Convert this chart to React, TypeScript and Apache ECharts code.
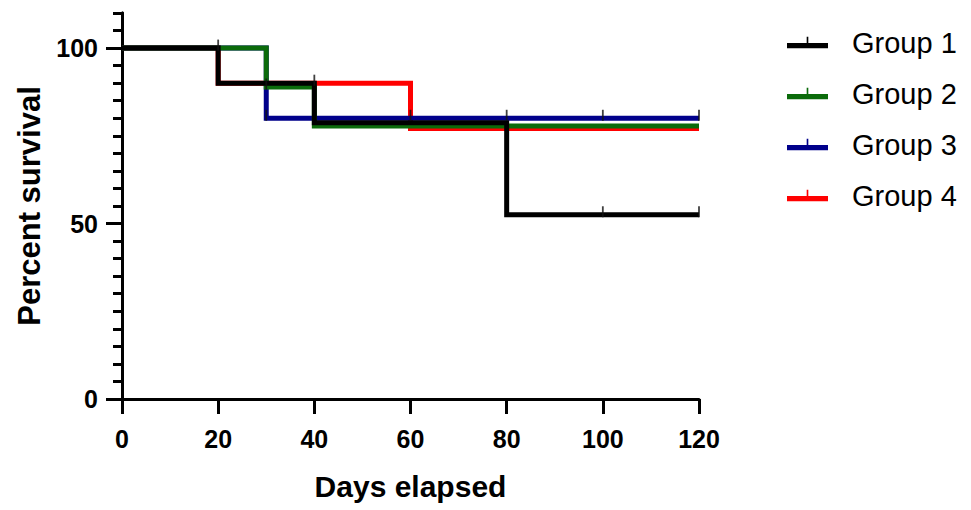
import React, { useEffect, useRef } from "react";
import * as echarts from "echarts";

const groupNames = ["Group 1", "Group 2", "Group 3", "Group 4"];
const groupColors = ["#000000", "#0b6b0b", "#00008b", "#ff0000"];

// Kaplan-Meier step points [day, percent survival]
const group1 = [[0, 100], [20, 90], [40, 78.75], [80, 52.5], [120, 52.5]];
const group2 = [[0, 100], [30, 88.9], [40, 77.8], [120, 77.8]];
const group3 = [[0, 100], [30, 80], [120, 80]];
const group4 = [[0, 100], [20, 90], [60, 77.1], [120, 77.1]];

// censor marks [day, percent survival]
const censor1 = [[20, 100], [40, 90], [100, 52.5], [120, 52.5]];
const censor2 = [[30, 88.9]];
const censor3 = [[30, 80], [60, 80], [80, 80], [100, 80], [120, 80]];
const censor4: number[][] = [];

const xTicks = [0, 20, 40, 60, 80, 100, 120];
const yMajorTicks = [0, 50, 100];

const FONT = "Arial, 'Liberation Sans', Helvetica, sans-serif";

export default function App() {
  const ref = useRef<HTMLDivElement>(null);
  useEffect(() => {
    if (!ref.current) return;
    document.body.style.margin = "0";
    const chart = echarts.init(ref.current, undefined, { renderer: "svg" });
    const groups = [group1, group2, group3, group4];
    const censors = [censor1, censor2, censor3, censor4];
    const legendIcon = "path://M0,6 H40 V11 H0 Z M19.2,0 H20.8 V8 H19.2 Z";
    const lineSeries = groups.map((d, i) => ({
      name: groupNames[i],
      type: "line",
      step: "end",
      data: d,
      showSymbol: false,
      symbol: "none",
      lineStyle: { color: groupColors[i], width: 5, cap: "butt", join: "miter" },
      itemStyle: { color: groupColors[i] },
      z: 10 - i,
      xAxisIndex: 0,
      yAxisIndex: 0,
    }));
    const censorSeries = censors.map((d, i) => ({
      name: groupNames[i] + " censored",
      type: "scatter",
      data: d,
      symbol: "rect",
      symbolSize: [1.8, 11],
      symbolOffset: [0, -3],
      itemStyle: { color: "#111111" },
      z: 20,
      xAxisIndex: 0,
      yAxisIndex: 0,
    }));
    chart.setOption({
      animation: false,
      backgroundColor: "#ffffff",
      grid: { left: 122, right: 272, top: 13, bottom: 111, containLabel: false },
      legend: {
        data: groupNames.map((n) => ({ name: n, icon: legendIcon })),
        orient: "vertical",
        left: 787,
        top: 28,
        padding: 0,
        itemWidth: 41,
        itemHeight: 12,
        itemGap: 22,
        textStyle: { fontFamily: FONT, fontSize: 29, color: "#000", padding: [0, 0, 0, 19] },
      },
      xAxis: {
        type: "value",
        min: 0,
        max: 120,
        interval: 20,
        name: "Days elapsed",
        nameLocation: "middle",
        nameGap: 72,
        nameTextStyle: { fontFamily: FONT, fontSize: 30, fontWeight: "bold", color: "#000" },
        axisLine: { show: true, lineStyle: { color: "#000", width: 3 } },
        axisTick: { show: true, length: 15, lineStyle: { color: "#000", width: 3 }, customValues: xTicks },
        axisLabel: { fontFamily: FONT, fontSize: 25, fontWeight: "bold", color: "#000", margin: 27, customValues: xTicks },
        splitLine: { show: false },
      },
      yAxis: [
        {
          type: "value",
          min: 0,
          max: 110,
          name: "Percent survival",
          nameLocation: "middle",
          nameGap: 74,
          nameTextStyle: { fontFamily: FONT, fontSize: 31, fontWeight: "bold", color: "#000" },
          axisLine: { show: true, lineStyle: { color: "#000", width: 3 } },
          axisTick: { show: true, length: 16, lineStyle: { color: "#000", width: 3 }, customValues: yMajorTicks },
          axisLabel: { fontFamily: FONT, fontSize: 25, fontWeight: "bold", color: "#000", margin: 24, customValues: yMajorTicks },
          splitLine: { show: false },
          z: 3,
        },
        {
          type: "value",
          min: 0,
          max: 110,
          interval: 5,
          position: "left",
          axisLine: { show: true, lineStyle: { color: "#000", width: 3 } },
          axisTick: { show: true, length: 9, lineStyle: { color: "#000", width: 3 } },
          axisLabel: { show: false },
          splitLine: { show: false },
          z: 2,
        },
      ],
      series: [...lineSeries, ...censorSeries],
    });
    return () => chart.dispose();
  }, []);
  return <div ref={ref} style={{ width: 971, height: 510 }} />;
}
